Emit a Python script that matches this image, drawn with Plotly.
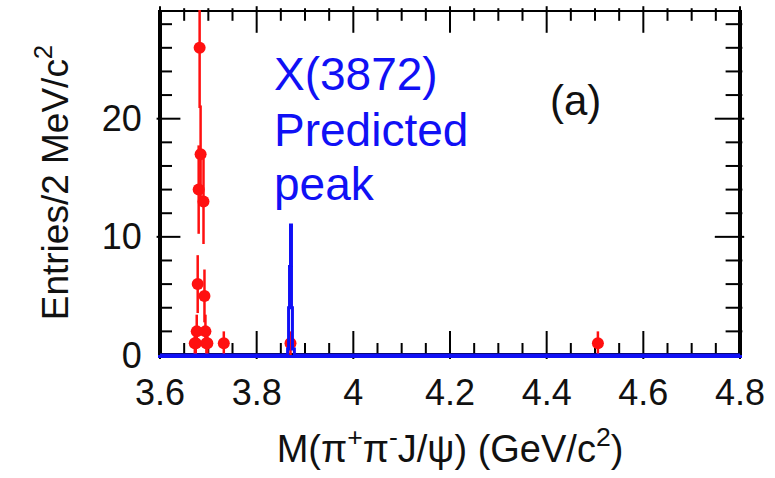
import numpy as np
import plotly.graph_objects as go

# Data: pi+ pi- J/psi invariant mass, 2 MeV bins (GeV/c^2)
data_mass = [3.672, 3.674, 3.676, 3.678, 3.680, 3.682, 3.684, 3.690,
             3.692, 3.694, 3.696, 3.698, 3.732, 3.870, 4.506]
data_counts = [1, 1, 2, 6, 14, 26, 17, 13, 5, 2, 1, 1, 1, 1, 1]

# Predicted X(3872) line shape (histogram, bin left edges)
pred_edges = [3.600, 3.862, 3.864, 3.866, 3.868, 3.870, 3.872, 3.874, 3.876, 3.878, 4.800]
pred_counts = [0, 0, 0.5, 4, 7.5, 11, 4, 0.5, 0.5, 0, 0]

# Axis ticks and labels
x_major = [3.6, 3.8, 4.0, 4.2, 4.4, 4.6, 4.8]
x_labels = ["3.6", "3.8", "4", "4.2", "4.4", "4.6", "4.8"]
x_minor_step = 0.05
y_major = [0, 10, 20]
y_labels = ["0", "10", "20"]
y_minor_step = 2

x_range = [3.6, 4.8]
y_range = [0, 29.2]

FONT = "Liberation Sans, Arial, Helvetica, sans-serif"
RED = "#ff1010"
BLUE = "#1010f5"
INK = "#000000"

# pixel -> data unit conversion for the inward tick marks
plot_w, plot_h = 580.0, 345.0
px_x = (x_range[1] - x_range[0]) / plot_w
px_y = (y_range[1] - y_range[0]) / plot_h

x_minor = [v for v in np.arange(x_range[0], x_range[1] + 1e-9, x_minor_step)
           if min(abs(v - m) for m in x_major) > 1e-6]
y_minor = [v for v in np.arange(y_minor_step, y_range[1], y_minor_step)
           if v not in y_major]

fig = go.Figure()

# frame, kept one pixel inside the plotting area
x_lo, x_hi = x_range[0] + 1 * px_x, x_range[1] - 1 * px_x
y_lo, y_hi = y_range[0] + 1 * px_y, y_range[1] - 1 * px_y
fig.add_trace(go.Scatter(
    x=[x_lo, x_hi, x_hi, x_lo, x_lo], y=[y_lo, y_lo, y_hi, y_hi, y_lo],
    mode="lines", line=dict(color=INK, width=2),
    hoverinfo="skip", showlegend=False,
))

# inward tick marks as line-shaped markers centred half a tick length from the edge
def x_ticks(vals, length, at_top):
    ys = [(y_range[1] - length / 2 * px_y) if at_top else (y_range[0] + length / 2 * px_y)
          for _ in vals]
    return go.Scatter(x=list(vals), y=ys, mode="markers", cliponaxis=False,
                      marker=dict(symbol="line-ns", size=length,
                                  line=dict(color=INK, width=2)),
                      hoverinfo="skip", showlegend=False)


def y_ticks(vals, length, at_right):
    xs = [(x_range[1] - length / 2 * px_x) if at_right else (x_range[0] + length / 2 * px_x)
          for _ in vals]
    return go.Scatter(x=xs, y=list(vals), mode="markers", cliponaxis=False,
                      marker=dict(symbol="line-ew", size=length,
                                  line=dict(color=INK, width=2)),
                      hoverinfo="skip", showlegend=False)


fig.add_trace(x_ticks(x_major, 20, False))
fig.add_trace(x_ticks(x_minor, 10, False))
fig.add_trace(x_ticks(x_major, 19, True))
fig.add_trace(x_ticks(x_minor, 9, True))
fig.add_trace(y_ticks(y_major[1:], 17, False))
fig.add_trace(y_ticks(y_minor, 10, False))
fig.add_trace(y_ticks(y_major[1:], 21, True))
fig.add_trace(y_ticks(y_minor, 12, True))

fig.add_trace(go.Scatter(
    x=data_mass, y=data_counts, mode="markers",
    marker=dict(color=RED, size=12),
    error_y=dict(type="data", array=list(np.sqrt(data_counts)),
                 color=RED, thickness=2.5, width=0),
    showlegend=False,
))

fig.add_trace(go.Scatter(
    x=pred_edges, y=pred_counts, mode="lines",
    line=dict(color=BLUE, width=3, shape="hv"),
    showlegend=False,
))

axis_font = dict(family=FONT, size=36, color="#111111")

fig.update_layout(
    width=775, height=478,
    margin=dict(l=160, r=35, t=10, b=123),
    paper_bgcolor="white", plot_bgcolor="white",
    font=dict(family=FONT, color="#111111"),
    xaxis=dict(
        range=x_range, tickvals=x_major, ticktext=x_labels,
        showline=True, linecolor=BLUE, linewidth=3, mirror=False,
        ticks="", showgrid=False, zeroline=False,
        tickfont=axis_font, ticklabelstandoff=4,
        title=dict(text="M(π<sup>+</sup>π<sup>-</sup>J/ψ) (GeV/c<sup>2</sup>)",
                   font=dict(family=FONT, size=38, color="#111111"), standoff=24),
    ),
    yaxis=dict(
        range=y_range, tickvals=y_major, ticktext=y_labels,
        showline=True, linecolor=INK, linewidth=2, mirror=True,
        ticks="", showgrid=False, zeroline=False,
        tickfont=axis_font, ticklabelstandoff=9,
        title=dict(text="Entries/2 MeV/c<sup>2</sup>",
                   font=dict(family=FONT, size=37, color="#111111"), standoff=22),
    ),
)

label_font = dict(family=FONT, size=46, color=BLUE)
for text, ypos in [("X(3872)", 0.815), ("Predicted", 0.652), ("peak", 0.496)]:
    fig.add_annotation(text=text, xref="paper", yref="paper", x=0.193, y=ypos,
                       xanchor="left", yanchor="middle", showarrow=False,
                       font=label_font)

fig.add_annotation(text="(a)", xref="paper", yref="paper", x=0.717, y=0.739,
                   xanchor="center", yanchor="middle", showarrow=False,
                   font=dict(family=FONT, size=42, color="#111111"))

fig.write_html("out.html")
